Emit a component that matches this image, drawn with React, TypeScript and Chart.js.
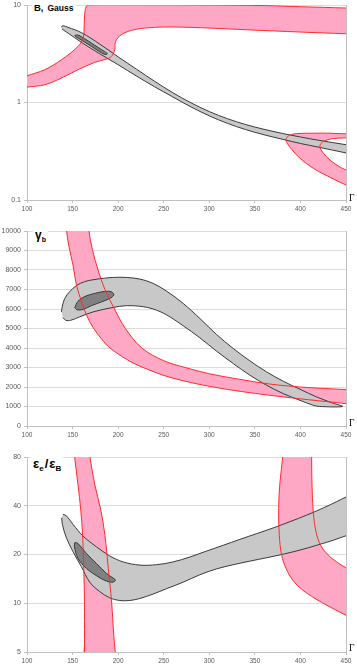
import React, { useEffect, useRef } from "react";
import { Chart, registerables } from "chart.js";

Chart.register(...registerables);

// ---------------- tick values ----------------
const lorentzTicks = [100, 150, 200, 250, 300, 350, 400, 450];
const bFieldTicks = [0.1, 1, 10];
const gammaBTicks = [0, 1000, 2000, 3000, 4000, 5000, 6000, 7000, 8000, 9000, 10000];
const epsRatioTicks = [5, 10, 20, 40, 80];

// ---------------- panel 1 : B, Gauss ----------------
const bPinkTop = [
  [95, 1.82], [100, 1.88], [119.4, 2.17], [137.7, 2.74], [156, 3.76], [161.5, 4.58], [162.6, 5.58],
  [162.9, 7.0], [163.6, 8.6], [165.5, 9.8], [170, 10.03], [200, 10.05], [250, 10.04], [300, 10.0],
  [330, 9.95], [363, 9.84], [400, 9.6], [450, 9.31], [465, 9.2],
];
const bPinkBottom = [
  [95, 1.42], [100, 1.44], [119.4, 1.52], [137.7, 1.78], [156, 2.17], [174.3, 2.58], [187.2, 2.79],
  [192.7, 2.97], [196.3, 3.47], [197.2, 4.24], [203.6, 4.96], [214.6, 5.49], [229.2, 5.8], [251, 5.95],
  [290, 5.85], [345, 5.55], [400, 5.28], [450, 5.07], [465, 5.02],
];
const bCrescentOuter = [
  [470, 0.476], [450, 0.477], [432.4, 0.484], [414.1, 0.484], [395.8, 0.48], [388.5, 0.462], [384.9, 0.436],
  [384.1, 0.414], [385.5, 0.382], [390.3, 0.331], [399.5, 0.268], [414.1, 0.2115], [432.4, 0.171],
  [450, 0.1426], [470, 0.118],
];
const bCrescentInner = [
  [470, 0.437], [450, 0.4335], [436.1, 0.427], [427, 0.407], [422.2, 0.376], [421.4, 0.348], [424.4, 0.309],
  [432.4, 0.257], [441.6, 0.223], [450, 0.203], [470, 0.175],
];
const bGrayTop = [
  [137.6, 5.95], [139.5, 6.13], [145, 5.9], [160, 5.19], [180, 3.96], [200, 2.94], [220, 2.2], [240, 1.65],
  [260, 1.26], [280, 0.991], [300, 0.807], [320, 0.682], [340, 0.594], [360, 0.531], [380, 0.482],
  [400, 0.443], [420, 0.41], [450, 0.369], [465, 0.351],
];
const bGrayBottom = [
  [138.4, 5.67], [145, 5.15], [160, 4.12], [180, 3.15], [200, 2.44], [220, 1.87], [240, 1.45], [260, 1.14],
  [280, 0.9], [300, 0.73], [320, 0.611], [340, 0.527], [360, 0.467], [380, 0.42], [400, 0.38],
  [420, 0.348], [450, 0.304], [465, 0.285],
];
const bDark = [
  [152.4, 4.88], [156, 4.92], [163.3, 4.51], [170.7, 4.07], [178, 3.67], [185.3, 3.32], [188.2, 3.16],
  [185.3, 3.11], [178, 3.4], [170.7, 3.76], [163.3, 4.17], [156, 4.58], [153.1, 4.76], [152.4, 4.88],
];

// ---------------- panel 2 : gamma_b ----------------
const gPinkLeft = [
  [142.5, 11000], [143.5, 10000], [146, 9200], [150.5, 8250], [154.2, 7230], [159.7, 6400], [165.2, 5700],
  [172.5, 5050], [182, 4450], [191, 4000], [210, 3400], [227.4, 3000], [256.7, 2500], [304.3, 2000],
  [366.5, 1575], [450, 1147], [470, 1060],
];
const gPinkRight = [
  [167, 11000], [168, 10000], [172, 9000], [178, 8000], [185.5, 7000], [196, 6000], [208, 5000],
  [226, 4000], [250, 3350], [275, 2980], [300, 2680], [330, 2420], [366.5, 2150], [400, 2000],
  [450, 1866], [470, 1820],
];
const gGrayTop = [
  [137.8, 5850], [138.8, 6150], [141.4, 6540], [147, 6900], [154.2, 7200], [163, 7400], [172.5, 7500],
  [185, 7580], [195, 7620], [209, 7620], [223.8, 7534], [238.4, 7312], [253.1, 6918], [271.4, 6284],
  [289.7, 5514], [308, 4692], [326.3, 3973], [344.6, 3339], [362.9, 2774], [381.2, 2295], [399.5, 1884],
  [417.8, 1490], [436.1, 1164], [446.4, 1000],
];
const gGrayBottom = [
  [139.5, 5560], [142.5, 5420], [148, 5420], [157.9, 5600], [172.5, 5850], [194.4, 6080], [209, 6170],
  [223.8, 6140], [238.4, 6000], [253.1, 5700], [271.4, 5137], [289.7, 4521], [308, 3836], [326.3, 3202],
  [344.6, 2603], [362.9, 2089], [381.2, 1661], [399.5, 1318], [414.1, 1062], [421.1, 1000],
];
const gDark = [
  [152.4, 6080], [156, 6400], [163.3, 6640], [174.3, 6800], [185.3, 6900], [192.7, 6880], [195.2, 6720],
  [190.8, 6540], [181.6, 6360], [170.7, 6170], [161.5, 5980], [154.9, 5960], [152.4, 6080],
];

// ---------------- panel 3 : eps_e / eps_B ----------------
const rPinkALeft = [
  [151.5, 95], [152.3, 80], [156, 53.7], [159, 37.6], [161, 26.3], [162.3, 16.4], [163, 10.2], [163.1, 6], [163.1, 4.5],
];
const rPinkARight = [
  [167.4, 95], [169, 80], [174.5, 53.7], [181, 37.6], [185.5, 26.3], [189.2, 16.4], [192.8, 10.2],
  [195.2, 6.34], [196.8, 5], [197.3, 4.5],
];
const rPinkBOuter = [
  [380.8, 95], [380.5, 80], [377.6, 56.3], [376.1, 38.5], [376.8, 26.3], [379.4, 19.8], [384.2, 16.4],
  [391.5, 13.9], [401.4, 12.2], [416, 10.7], [432.5, 9.49], [450, 8.43], [470, 7.5],
];
const rPinkBInner = [
  [412.3, 95], [412.3, 80], [412.7, 53.7], [414.1, 36.7], [417.1, 27.6], [422.2, 22.8], [430.6, 19.8],
  [439.8, 18.0], [450, 16.6], [470, 15.3],
];
const rGrayTop = [
  [139.5, 35.4], [143.2, 34.7], [150.5, 30.7], [161.5, 26.0], [176.2, 22.3], [190.8, 19.6], [205.5, 18.0],
  [223.8, 17.2], [242.1, 17.3], [260.4, 18.0], [278.7, 19.3], [297, 21.0], [315.3, 22.8], [333.6, 24.8],
  [351.9, 26.9], [370.2, 29.2], [388.5, 31.9], [406.8, 35.0], [425.2, 38.8], [439.8, 42.4], [450, 45.3],
  [465, 49.5],
];
const rGrayBottom = [
  [138.1, 33.7], [138.8, 30.7], [143.2, 25.4], [150.5, 20.8], [159.7, 16.8], [168.8, 13.5], [179.8, 11.8],
  [190.8, 10.8], [201.8, 10.4], [212.8, 10.4], [223.8, 10.7], [238.4, 11.4], [253.1, 12.3], [271.4, 13.5],
  [289.7, 15.0], [308, 16.3], [326.3, 17.3], [344.6, 18.2], [362.9, 19.1], [381.2, 20.1], [399.5, 21.3],
  [417.8, 22.8], [436.1, 24.5], [450, 26.1], [465, 27.5],
];
const rDark = [
  [152.4, 23.7], [156, 23.4], [165.2, 20.3], [176.2, 17.6], [187.1, 15.3], [194.5, 14.3], [197, 13.9],
  [194.5, 13.5], [187.1, 13.7], [176.2, 14.8], [165.2, 16.4], [156, 18.9], [152, 22.3], [152.4, 23.7],
];

// ---------------- styling ----------------
const FONT = "'Liberation Sans', Arial, Helvetica, sans-serif";
const SERIF = "'Liberation Serif', 'Times New Roman', serif";
const PINK = "#ffa8c6";
const RED = "#ff2b2b";
const GRAY = "#c8c8c8";
const DARK = "#808080";
const OUTLINE = "#3a3a3a";
const AXIS = "#c0c0c0";
const GRID = "#dcdcdc";
const LABEL = "#595959";

type XY = { x: number; y: number };
const toXY = (a: number[][]): XY[] => a.map(([x, y]) => ({ x, y }));
const band = (a: number[][], b: number[][]): XY[] => toXY([...a, ...b.slice().reverse()]);

const pinkFill = (data: XY[]) => ({ data, fill: "shape", backgroundColor: PINK, borderColor: "rgba(0,0,0,0)", borderWidth: 1 });
const redLine = (a: number[][]) => ({ data: toXY(a), fill: false, borderColor: RED, backgroundColor: "rgba(0,0,0,0)", borderWidth: 1 });
const shape = (data: XY[], color: string) => ({ data, fill: "shape", backgroundColor: color, borderColor: OUTLINE, borderWidth: 1 });

function makeConfig(datasets: any[], yScale: any, padTop: number, xHeight: number) {
  return {
    type: "line",
    data: { datasets },
    options: {
      responsive: false,
      animation: false,
      devicePixelRatio: 1,
      events: [],
      layout: { padding: { top: padTop, right: 11, left: 0, bottom: 0 } },
      elements: {
        point: { radius: 0, hoverRadius: 0 },
        line: { tension: 0.35, capBezierPoints: false },
      },
      plugins: { legend: { display: false }, tooltip: { enabled: false } },
      scales: {
        x: {
          type: "linear",
          min: 100,
          max: 450,
          afterBuildTicks: (s: any) => { s.ticks = lorentzTicks.map((v) => ({ value: v })); },
          ticks: { autoSkip: false, maxRotation: 0, padding: 2, color: LABEL, font: { family: FONT, size: 6.5 } },
          grid: { drawOnChartArea: false, drawTicks: true, tickLength: 3, tickColor: AXIS },
          border: { color: AXIS },
          afterFit: (s: any) => { s.height = xHeight; s.paddingLeft = 0; s.paddingRight = 0; },
        },
        y: {
          ...yScale,
          ticks: { padding: 3, color: LABEL, font: { family: FONT, size: 7 }, callback: (v: any) => String(v) },
          grid: { color: GRID, tickLength: 3, tickColor: AXIS },
          border: { color: AXIS },
          afterFit: (s: any) => { s.width = 27; s.paddingTop = 0; s.paddingBottom = 0; },
        },
        y2: {
          position: "right",
          type: "linear",
          ticks: { display: false },
          grid: { drawOnChartArea: false, drawTicks: false },
          border: { color: AXIS },
          afterFit: (s: any) => { s.width = 0; s.paddingTop = 0; s.paddingBottom = 0; },
        },
      },
    },
  };
}

const panel1 = () =>
  makeConfig(
    [
      redLine(bPinkTop), redLine(bPinkBottom), redLine(bCrescentOuter), redLine(bCrescentInner),
      shape(toXY(bDark), DARK),
      shape(band(bGrayTop, bGrayBottom), GRAY),
      pinkFill(band(bPinkTop, bPinkBottom)),
      pinkFill(band(bCrescentOuter, bCrescentInner)),
    ],
    {
      type: "logarithmic", min: 0.1, max: 10,
      afterBuildTicks: (s: any) => { s.ticks = bFieldTicks.map((v) => ({ value: v })); },
    },
    5, 15
  );

const panel2 = () =>
  makeConfig(
    [
      redLine(gPinkLeft), redLine(gPinkRight),
      shape(toXY(gDark), DARK),
      shape(band(gGrayTop, gGrayBottom), GRAY),
      pinkFill(band(gPinkLeft, gPinkRight)),
    ],
    {
      type: "linear", min: 0, max: 10000,
      afterBuildTicks: (s: any) => { s.ticks = gammaBTicks.map((v) => ({ value: v })); },
    },
    16, 14
  );

const panel3 = () =>
  makeConfig(
    [
      redLine(rPinkALeft), redLine(rPinkARight), redLine(rPinkBOuter), redLine(rPinkBInner),
      shape(toXY(rDark), DARK),
      shape(band(rGrayTop, rGrayBottom), GRAY),
      pinkFill(band(rPinkALeft, rPinkARight)),
      pinkFill(band(rPinkBOuter, rPinkBInner)),
    ],
    {
      type: "logarithmic", min: 5, max: 80,
      afterBuildTicks: (s: any) => { s.ticks = epsRatioTicks.map((v) => ({ value: v })); },
    },
    17, 14
  );

function Panel({ top, height, build }: { top: number; height: number; build: () => any }) {
  const ref = useRef<HTMLCanvasElement>(null);
  useEffect(() => {
    const chart = new Chart(ref.current as HTMLCanvasElement, build());
    return () => chart.destroy();
  }, []);
  return (
    <canvas
      ref={ref}
      width={357}
      height={height}
      style={{ position: "absolute", left: 0, top, width: 357, height }}
    />
  );
}

const titleBase: React.CSSProperties = {
  position: "absolute",
  fontFamily: FONT,
  fontWeight: "bold",
  color: "#000",
  background: "#fff",
  whiteSpace: "nowrap",
  padding: "0 2px",
};
const gammaLabel: React.CSSProperties = {
  position: "absolute",
  left: 349,
  fontFamily: SERIF,
  fontSize: 9.5,
  lineHeight: "10px",
  color: "#000",
};

export default function App() {
  return (
    <div style={{ position: "absolute", left: 0, top: 0, width: 357, height: 666, background: "#fff", overflow: "hidden" }}>
      <Panel top={0} height={215} build={panel1} />
      <Panel top={215} height={225} build={panel2} />
      <Panel top={440} height={226} build={panel3} />

      <div style={{ ...titleBase, left: 32, top: 2, fontSize: 9.5, lineHeight: "11px" }}>
        <span>B,</span>
        <span style={{ fontSize: 8.5, marginLeft: 4 }}>Gauss</span>
      </div>
      <div style={{ ...titleBase, left: 33, top: 228, fontSize: 12, lineHeight: "14px" }}>
        <span>γ</span>
        <span style={{ fontSize: 7, position: "relative", top: 3 }}>b</span>
      </div>
      <div style={{ ...titleBase, left: 31, top: 456, fontSize: 13, lineHeight: "15px" }}>
        <span>ε</span>
        <span style={{ fontSize: 8, position: "relative", top: 3 }}>e</span>
        <span style={{ marginLeft: 1 }}>/</span>
        <span style={{ marginLeft: 1 }}>ε</span>
        <span style={{ fontSize: 8, position: "relative", top: 3 }}>B</span>
      </div>

      <div style={{ ...gammaLabel, top: 193 }}>Γ</div>
      <div style={{ ...gammaLabel, top: 418 }}>Γ</div>
      <div style={{ ...gammaLabel, top: 643 }}>Γ</div>
    </div>
  );
}
